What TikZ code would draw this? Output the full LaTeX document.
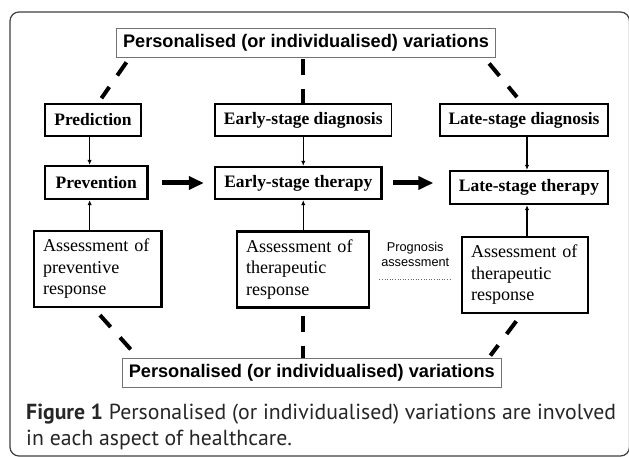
\documentclass[tikz,border=0pt]{standalone}
\usepackage{fontspec}
\setmainfont{Liberation Serif}
\newfontfamily\arialf{Liberation Sans}
\newfontfamily\capf{PT Sans}
\usetikzlibrary{arrows.meta}
\newlength\mylen
\newcommand\fitmeasure[4]{\settowidth\mylen{#2\fontsize{10pt}{12pt}\selectfont #4}\pgfmathsetmacro#1{10*#3/\mylen}}
\begin{document}
\fitmeasure\fsT{\arialf\bfseries}{366}{Personalised (or individualised) variations}%
\fitmeasure\fsB{\bfseries}{148}{Early-stage therapy}%
\fitmeasure\fsA{}{105}{Assessment of}%
\fitmeasure\fsP{\arialf}{68}{assessment}%
\fitmeasure\fsC{\capf}{590}{\textbf{Figure 1} Personalised (or individualised) variations are involved}%
\begin{tikzpicture}[x=1pt,y=-1pt,
  pbox/.style={draw=black!55, line width=0.8pt, inner sep=0pt,
    font=\arialf\bfseries\fontsize{\fsT pt}{\fsT pt}\selectfont},
  dbox/.style={draw, line width=1.6pt, minimum height=32pt, inner sep=0pt,
    font=\bfseries\fontsize{\fsB pt}{\fsB pt}\selectfont},
  tbox/.style={draw, line width=2.4pt, minimum height=32pt, inner sep=0pt,
    font=\bfseries\fontsize{\fsB pt}{\fsB pt}\selectfont},
  abox/.style={draw, line width=2.4pt, align=left, inner xsep=9pt, inner ysep=0pt,
    minimum height=76pt, font=\fontsize{\fsA pt}{21.5pt}\selectfont},
  thinarrow/.style={line width=1.1pt, -{Latex[length=5pt,width=4.5pt]}},
  bigarrow/.style={line width=5pt, -{Triangle[length=15pt,width=13pt]}},
  dashln/.style={line width=4pt, dash pattern=on 16pt off 14pt},
  captext/.style={anchor=base west, inner sep=0pt, text=black!85,
    font=\capf\fontsize{\fsC pt}{\fsC pt}\selectfont}
]
\useasboundingbox (0,0) rectangle (629,457);
\fill[white] (0,0) rectangle (629,457);
\draw[line width=1.2pt, black!75, rounded corners=9pt] (10,12) rectangle (629.5,456);

\node[pbox, minimum width=379.5pt, minimum height=29pt] (T) at (306,42.5) {Personalised (or individualised) variations};

\node[dbox, minimum width=96pt] (Pred) at (93,120) {Prediction};
\node[dbox, minimum width=176.5pt] (Ediag) at (303.25,120) {Early-stage diagnosis};
\node[dbox, minimum width=168pt] (Ldiag) at (524,120) {Late-stage diagnosis};

\node[tbox, minimum width=102.5pt, minimum height=33pt] (Prev) at (96.25,182.5) {Prevention};
\node[tbox, minimum width=166.5pt] (Eth) at (298.25,183) {Early-stage therapy};
\node[tbox, minimum width=158pt, minimum height=33pt] (Lth) at (529,187.5) {Late-stage therapy};

\node[abox, text width=109.5pt] (A1) at (97.75,269) {Assessment of\\preventive\\response};
\node[abox, text width=113.7pt] (A2) at (302.9,269.5) {Assessment of\\therapeutic\\response};
\node[abox, text width=108pt] (A3) at (525,275) {Assessment of\\therapeutic\\response};

\node[align=center, inner sep=0pt, minimum width=71.5pt, anchor=south,
  font=\arialf\fontsize{\fsP pt}{15pt}\selectfont] (Prog) at (415.25,267) {Prognosis\\assessment};
\draw[black!60, line width=0.6pt, dotted] ([yshift=-12pt]Prog.south west) -- ([yshift=-12pt]Prog.south east);

\node[pbox, minimum width=378.5pt, minimum height=29pt] (B) at (311.75,372.5) {Personalised (or individualised) variations};

\node[captext] (cap1) at (26,419) {\textbf{Figure 1} Personalised (or individualised) variations are involved};
\node[captext] (cap2) at (26,445) {in each aspect of healthcare.};

% thin arrows
\draw[thinarrow] ([xshift=-3.4pt]Pred.south) -- ([xshift=-3.4pt]Pred.south |- Prev.north);
\draw[thinarrow] ([xshift=-6.6pt]Prev.south |- A1.north) -- ([xshift=-6.6pt]Prev.south);
\draw[thinarrow] (Ediag.south) -- (Ediag.south |- Eth.north);
\draw[thinarrow] (Ediag.south |- A2.north) -- (Ediag.south |- Eth.south);
\draw[thinarrow] ([xshift=3pt]Ldiag.south) -- ([xshift=3pt]Ldiag.south |- Lth.north);
\draw[thinarrow] ([xshift=3pt]Ldiag.south |- A3.north) -- ([xshift=3pt]Ldiag.south |- Lth.south);

% thick arrows
\draw[bigarrow] ([xshift=13.5pt]Prev.east |- Eth.west) -- ([xshift=-10pt]Eth.west);
\draw[bigarrow] ([xshift=10pt]Eth.east) -- ([xshift=-15.5pt]Lth.west |- Eth.east);

% dashed links
\draw[dashln, shorten <=6pt, shorten >=6pt] ([xshift=14pt]T.south west) -- ([xshift=5pt]Pred.north);
\draw[dashln, shorten <=2pt] (Ediag.north |- T.south) -- (Ediag.north);
\draw[dashln, shorten <=7.9pt, shorten >=7.9pt] ([xshift=-12pt]T.south east) -- ([xshift=-2pt]Ldiag.north);
\draw[dashln, shorten <=9.3pt, shorten >=11pt] ([xshift=-4pt]A1.south) -- ([xshift=16pt]B.north west);
\draw[dashln, shorten <=7pt] (A2.south) -- (A2.south |- B.north);
\draw[dashln, shorten <=8.75pt, shorten >=2.5pt] ([xshift=-3.5pt]A3.south) -- ([xshift=-12.5pt]B.north east);
\end{tikzpicture}
\end{document}
